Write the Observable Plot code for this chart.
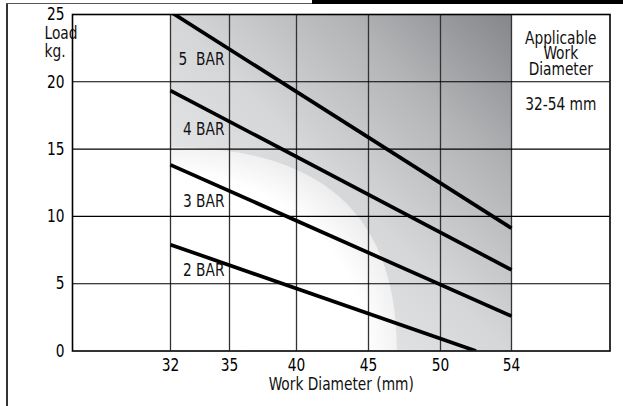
<!DOCTYPE html>
<html>
<head>
<meta charset="utf-8">
<script src="https://cdn.jsdelivr.net/npm/d3@7"></script>
<script src="https://cdn.jsdelivr.net/npm/@observablehq/plot@0.6"></script>
<style>
  html, body { margin: 0; padding: 0; background: #fff; }
  #wrap { position: relative; width: 623px; height: 406px; overflow: hidden; }
  #wrap svg { display: block; }
  .deco { position: absolute; pointer-events: none; }
</style>
</head>
<body>
<div id="wrap"></div>
<script>
// ---- data ----
const xTicks = [32, 35, 40, 45, 50, 54];
const yTicks = [0, 5, 10, 15, 20, 25];
const series = ["5 BAR", "4 BAR", "3 BAR", "2 BAR"];
const labelText = ["5\u00a0 BAR", "4 BAR", "3 BAR", "2 BAR"];
const startDiameter = [32, 32, 32, 32];
const startLoad = [25.2, 19.35, 13.83, 7.9];
const endDiameter = [54, 54, 54, 52];
const endLoad = [9.12, 6.03, 2.59, 0];
const labelLoad = [21.7, 16.45, 11.1, 6.0];
const labelDiameter = [35, 35, 35, 35];
const boxTitle = "Applicable\nWork\nDiameter";
const boxValue = "32-54 mm";
const yTitle = "Load\nkg.";
const xTitle = "Work Diameter (mm)";

const lines = series.map((s, i) => ({
  series: s, x1: startDiameter[i], y1: startLoad[i], x2: endDiameter[i], y2: endLoad[i]
}));
const labels = series.map((s, i) => ({ text: labelText[i], x: labelDiameter[i], y: labelLoad[i] }));

// background shading drawn through the scales
function shading(index, scales) {
  const { x, y } = scales;
  const x0 = x(32), x1 = x(54), yb = y(0), yt = y(25);
  const g = d3.create("svg:g");
  const defs = g.append("defs");
  const lg = defs.append("linearGradient")
    .attr("id", "shade").attr("x1", 0).attr("y1", 1).attr("x2", 1).attr("y2", 0);
  [[0, "#f7f7f7"], [0.5, "#d5d6d8"], [0.75, "#b3b4b6"], [1, "#85868a"]]
    .forEach(([o, c]) => lg.append("stop").attr("offset", o).attr("stop-color", c));
  const rg = defs.append("radialGradient")
    .attr("id", "hole").attr("cx", 0).attr("cy", 1).attr("r", 1.08);
  [[0, "#ffffff"], [0.8, "#ffffff"], [1, "#ebebeb"]]
    .forEach(([o, c]) => rg.append("stop").attr("offset", o).attr("stop-color", c));
  g.append("rect").attr("x", x0).attr("y", yt).attr("width", x1 - x0).attr("height", yb - yt)
    .attr("fill", "url(#shade)");
  const ax = x(47), ay = y(15.1);
  g.append("path")
    .attr("d", `M${x0},${ay} C${x0 + 0.62 * (ax - x0)},${ay} ${ax},${ay + 0.28 * (yb - ay)} ${ax},${yb} L${x0},${yb} Z`)
    .attr("fill", "url(#hole)");
  return g.node();
}

const font = "'Liberation Sans Narrow','Arial Narrow','DejaVu Sans Condensed',sans-serif";

const chart = Plot.plot({
  width: 623,
  height: 406,
  marginLeft: 72,
  marginRight: 13.5,
  marginTop: 14,
  marginBottom: 55.5,
  style: { fontFamily: font, fontSize: "18px", background: "white", color: "black", overflow: "visible" },
  x: { type: "linear", domain: [26, 32, 35, 40, 45, 50, 54, 60], range: [72, 170, 229, 296, 368, 440, 511, 609.5] },
  y: { domain: [0, 25] },
  marks: [
    shading,
    Plot.ruleX(xTicks, { stroke: "#333", strokeWidth: 1.3 }),
    Plot.ruleY(yTicks.filter(d => d > 0 && d < 25), { stroke: "#000", strokeWidth: 1.1 }),
    Plot.link(lines, { x1: "x1", y1: "y1", x2: "x2", y2: "y2", stroke: "#000", strokeWidth: 3.7, clip: true }),
    Plot.text(labels, { x: "x", y: "y", text: "text", textAnchor: "end", dx: -5, fill: "#111" }),
    Plot.text([boxTitle], { x: 57, y: 23.65, text: d => d, lineAnchor: "top", lineHeight: 0.87, fill: "#111" }),
    Plot.text([boxValue], { x: 57, y: 18.35, text: d => d, fill: "#111" }),
    Plot.text([yTitle], { frameAnchor: "top-left", dx: -28, dy: 11, text: d => d, lineAnchor: "top", lineHeight: 1.02, fill: "#111" }),
    Plot.text([xTitle], { frameAnchor: "bottom", dy: 26, text: d => d, lineAnchor: "top", fill: "#111" }),
    Plot.axisX({ ticks: xTicks, tickSize: 0, tickPadding: 7, label: null }),
    Plot.axisY({ ticks: yTicks, tickSize: 0, tickPadding: 8, label: null }),
    Plot.frame({ stroke: "#000", strokeWidth: 1.6 })
  ]
});

// condensed look: compress every text horizontally around its anchor
const squeeze = 0.85;
chart.querySelectorAll("text").forEach(t => {
  const tr = t.getAttribute("transform");
  if (tr) {
    t.setAttribute("transform", tr + ` scale(${squeeze},1)`);
  } else {
    const x = +(t.getAttribute("x") || 0), y = +(t.getAttribute("y") || 0);
    t.removeAttribute("x"); t.removeAttribute("y");
    t.setAttribute("transform", `translate(${x},${y}) scale(${squeeze},1)`);
  }
});

const wrap = document.getElementById("wrap");
wrap.appendChild(chart);
function deco(css) {
  const d = document.createElement("div");
  d.className = "deco";
  d.style.cssText = css;
  wrap.appendChild(d);
}
deco("left:6px;top:3px;width:2px;height:403px;background:#333;");
deco("left:6px;top:3px;width:306px;height:1px;background:#555;");
deco("left:312px;top:0;width:311px;height:4px;background:#000;");
</script>
</body>
</html>
